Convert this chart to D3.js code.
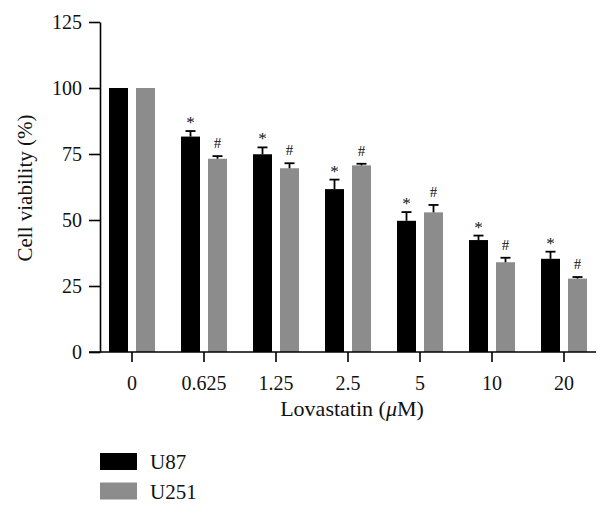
<!DOCTYPE html>
<html><head><meta charset="utf-8">
<script src="https://cdn.jsdelivr.net/npm/d3@7"></script>
<style>body{margin:0;background:#fff}svg{display:block}text{font-family:"Liberation Serif","Times New Roman",serif;fill:#111}</style>
</head><body><svg id="c" width="610" height="513"></svg>
<script>
const categories = ["0","0.625","1.25","2.5","5","10","20"];
const series = ["U87","U251"];
const u87 = [100, 81.6, 74.9, 61.7, 49.7, 42.4, 35.3];
const u87Err = [0, 2.1, 2.6, 3.6, 3.3, 1.7, 2.7];
const u251 = [100, 73.2, 69.6, 70.7, 52.9, 34.0, 27.8];
const u251Err = [0, 1.0, 1.9, 0.6, 2.8, 1.7, 0.6];
const marks = ["*", "#"];
const yTicks = [0, 25, 50, 75, 100, 125];
const colors = ["#000000", "#8c8c8c"];
const FS = 20;

const svg = d3.select("#c");
const y = d3.scaleLinear().domain([0, 125]).range([352, 22]);
const x0 = d3.scaleBand().domain(categories).range([96, 600]).padding(0);
const x1 = d3.scaleBand().domain(series).range([0, 46]).paddingInner(8/27);
const off = (x0.bandwidth() - 46) / 2;
const vals = [u87, u251], errs = [u87Err, u251Err];

// bars
series.forEach((s, si) => {
  const g = svg.append("g");
  g.selectAll("rect").data(categories).join("rect")
    .attr("x", d => x0(d) + off + x1(s))
    .attr("width", x1.bandwidth())
    .attr("y", (d, i) => y(vals[si][i]))
    .attr("height", (d, i) => y(0) - y(vals[si][i]))
    .attr("fill", colors[si]);
  categories.forEach((c, i) => {
    if (errs[si][i] <= 0) return;
    const cx = x0(c) + off + x1(s) + x1.bandwidth() / 2;
    const top = y(vals[si][i] + errs[si][i]);
    g.append("line").attr("x1", cx).attr("x2", cx).attr("y1", y(vals[si][i])).attr("y2", top)
      .attr("stroke", "#000").attr("stroke-width", 1.8);
    g.append("line").attr("x1", cx - 5).attr("x2", cx + 5).attr("y1", top).attr("y2", top)
      .attr("stroke", "#000").attr("stroke-width", 1.8);
    const m = marks[si];
    g.append("text").attr("x", cx).attr("y", m === "*" ? top - 3 : top - 8)
      .attr("text-anchor", "middle").attr("font-size", m === "*" ? 17 : 15).text(m);
  });
});

// y axis
const ya = svg.append("g").attr("transform", "translate(100,0)")
  .call(d3.axisLeft(y).tickValues(yTicks).tickSize(11).tickSizeOuter(0).tickPadding(7));
ya.attr("font-size", null).attr("font-family", null);
ya.select(".domain").attr("stroke", "#000").attr("stroke-width", 1.6);
ya.selectAll(".tick line").attr("stroke", "#000").attr("stroke-width", 1.6);
ya.selectAll(".tick text").attr("font-size", FS).attr("fill", "#111").attr("dy", "0.34em");

// x axis
const xa = svg.append("g").attr("transform", "translate(0,352)")
  .call(d3.axisBottom(x0).tickSize(10).tickSizeOuter(0).tickPadding(14));
xa.attr("font-size", null).attr("font-family", null);
xa.select(".domain").remove();
xa.append("line").attr("x1", 89).attr("x2", 596).attr("y1", 0).attr("y2", 0).attr("stroke", "#000").attr("stroke-width", 1.6);
xa.selectAll(".tick line").attr("stroke", "#000").attr("stroke-width", 1.6);
xa.selectAll(".tick text").attr("font-size", FS).attr("fill", "#111");

// axis titles
const xt = svg.append("text").attr("x", 352).attr("y", 416).attr("text-anchor", "middle").attr("font-size", 22);
xt.append("tspan").text("Lovastatin (");
xt.append("tspan").attr("font-style", "italic").text("\u03bc");
xt.append("tspan").text("M)");
svg.append("text").attr("transform", "translate(32,188) rotate(-90)").attr("text-anchor", "middle")
  .attr("font-size", 21).text("Cell viability (%)");

// legend
series.forEach((s, i) => {
  svg.append("rect").attr("x", 100).attr("y", 453 + i * 29.5).attr("width", 37).attr("height", 17).attr("fill", colors[i]);
  svg.append("text").attr("x", 150).attr("y", 469 + i * 29.5).attr("font-size", 21).text(s);
});
</script></body></html>
